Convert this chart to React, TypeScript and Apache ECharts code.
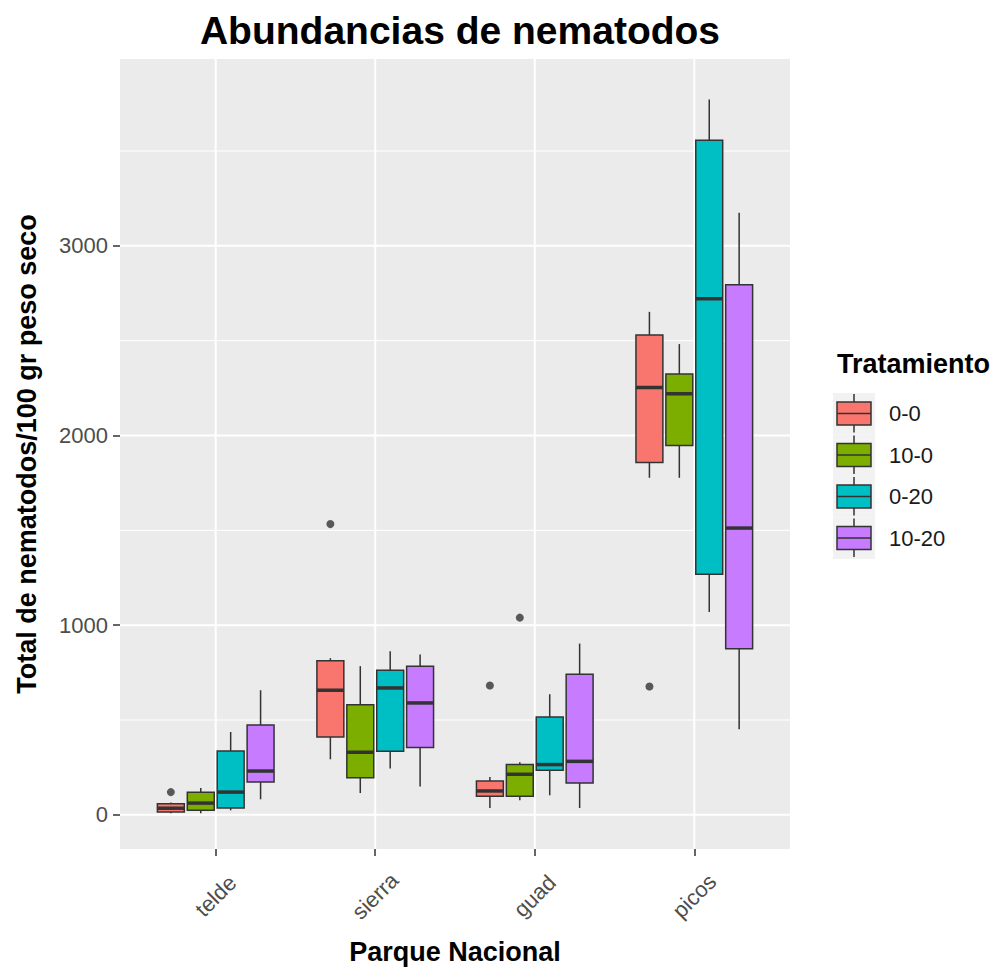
import React, { useEffect, useRef } from "react";
import * as echarts from "echarts";

const categories = ["telde", "sierra", "guad", "picos"];
const treatments = ["0-0", "10-0", "0-20", "10-20"];
const colors = ["#F8766D", "#7CAE00", "#00BFC4", "#C77CFF"];

// [min, q1, median, q3, max] for each park (telde, sierra, guad, picos)
const box00 = [
  [8, 15, 35, 59, 65],
  [293, 411, 657, 812, 826],
  [36, 98, 126, 178, 200],
  [1777, 1858, 2253, 2530, 2652],
];
const box100 = [
  [8, 24, 62, 119, 141],
  [115, 196, 330, 581, 784],
  [77, 98, 214, 266, 277],
  [1777, 1947, 2220, 2324, 2482],
];
const box020 = [
  [24, 36, 120, 337, 437],
  [244, 335, 669, 763, 863],
  [103, 235, 265, 516, 636],
  [1069, 1268, 2721, 3556, 3772],
];
const box1020 = [
  [82, 173, 231, 474, 657],
  [150, 355, 590, 784, 845],
  [36, 168, 282, 741, 903],
  [451, 876, 1512, 2795, 3174],
];
// [park index, value]
const outliers00 = [
  [0, 120],
  [1, 1533],
  [2, 682],
  [3, 677],
];
const outliers100 = [[2, 1040]];
const outliers020: number[][] = [];
const outliers1020: number[][] = [];

const yTicks = [0, 1000, 2000, 3000];
const yMinor = [500, 1500, 2500, 3500];

const boxes = [box00, box100, box020, box1020];
const outliers = [outliers00, outliers100, outliers020, outliers1020];

const FONT = "Liberation Sans, Arial, sans-serif";
const DODGE = 0.1875;
const HALF = DODGE * 0.45;

export default function App() {
  const ref = useRef<HTMLDivElement>(null);
  useEffect(() => {
    if (!ref.current) return;
    const chart = echarts.init(ref.current, null, { renderer: "svg" });

    const hLine = (width: number) => (params: any, api: any) => {
      const cs = params.coordSys;
      const y = api.coord([1, api.value(1)])[1];
      return {
        type: "line",
        shape: { x1: cs.x, y1: y, x2: cs.x + cs.width, y2: y },
        style: { stroke: "#FFFFFF", lineWidth: width },
        silent: true,
      };
    };
    const vLine = (params: any, api: any) => {
      const cs = params.coordSys;
      const x = api.coord([api.value(0), 0])[0];
      return {
        type: "line",
        shape: { x1: x, y1: cs.y, x2: x, y2: cs.y + cs.height },
        style: { stroke: "#FFFFFF", lineWidth: 2 },
        silent: true,
      };
    };

    const series: any[] = [
      {
        type: "custom",
        silent: true,
        renderItem: hLine(1),
        data: yMinor.map((v) => [1, v]),
        encode: { x: 0, y: 1 },
        z: 1,
      },
      {
        type: "custom",
        silent: true,
        renderItem: hLine(2),
        data: yTicks.map((v) => [1, v]),
        encode: { x: 0, y: 1 },
        z: 1,
      },
      {
        type: "custom",
        silent: true,
        renderItem: vLine,
        data: categories.map((_, i) => [i + 1, 0]),
        encode: { x: 0, y: 1 },
        z: 1,
      },
    ];

    treatments.forEach((name, t) => {
      const off = (t - 1.5) * DODGE;
      series.push({
        type: "custom",
        name,
        silent: true,
        z: 2,
        encode: { x: 0, y: [1, 2, 3, 4, 5] },
        data: boxes[t].map((b, i) => [i + 1, ...b]),
        renderItem: (params: any, api: any) => {
          const c = api.value(0) + off;
          const xL = api.coord([c - HALF, 0])[0];
          const xR = api.coord([c + HALF, 0])[0];
          const xc = api.coord([c, 0])[0];
          const y = (v: number) => api.coord([c, v])[1];
          const mn = api.value(1),
            q1 = api.value(2),
            md = api.value(3),
            q3 = api.value(4),
            mx = api.value(5);
          const stroke = "#333333";
          return {
            type: "group",
            children: [
              { type: "line", shape: { x1: xc, y1: y(mx), x2: xc, y2: y(q3) }, style: { stroke, lineWidth: 1.5 } },
              { type: "line", shape: { x1: xc, y1: y(q1), x2: xc, y2: y(mn) }, style: { stroke, lineWidth: 1.5 } },
              {
                type: "rect",
                shape: { x: xL, y: y(q3), width: xR - xL, height: y(q1) - y(q3) },
                style: { fill: colors[t], stroke, lineWidth: 1.5 },
              },
              { type: "line", shape: { x1: xL, y1: y(md), x2: xR, y2: y(md) }, style: { stroke, lineWidth: 3.5 } },
            ],
          };
        },
      });
      series.push({
        type: "scatter",
        silent: true,
        z: 3,
        symbolSize: 8,
        itemStyle: { color: "#333333" },
        data: outliers[t].map(([ci, v]) => [ci + 1 + off, v]),
      });
    });

    const graphics: any[] = [
      {
        type: "text",
        left: 837,
        top: 350,
        style: { text: "Tratamiento", font: `bold 27px ${FONT}`, fill: "#000000" },
      },
    ];
    const keyTop = 393;
    const keyH = 41.5;
    treatments.forEach((name, t) => {
      const ty = keyTop + t * keyH;
      const kx = 833;
      graphics.push(
        { type: "rect", shape: { x: kx, y: ty, width: 42, height: keyH }, style: { fill: "#F2F2F2" } },
        { type: "line", shape: { x1: kx + 21, y1: ty + 1, x2: kx + 21, y2: ty + keyH - 2 }, style: { stroke: "#333333", lineWidth: 1.5 } },
        {
          type: "rect",
          shape: { x: kx + 4, y: ty + 9, width: 34, height: 23 },
          style: { fill: colors[t], stroke: "#333333", lineWidth: 1.5 },
        },
        { type: "line", shape: { x1: kx + 4, y1: ty + 20.5, x2: kx + 38, y2: ty + 20.5 }, style: { stroke: "#333333", lineWidth: 1.5 } },
        {
          type: "text",
          x: 889,
          y: ty + keyH / 2,
          style: { text: name, font: `22px ${FONT}`, fill: "#1A1A1A", textVerticalAlign: "middle" },
        }
      );
    });

    chart.setOption({
      animation: false,
      title: {
        text: "Abundancias de nematodos",
        left: 455,
        top: 6,
        textAlign: "center",
        textStyle: { fontSize: 39, fontWeight: "bold", color: "#000000", fontFamily: FONT },
      },
      grid: {
        left: 120,
        right: 205,
        top: 59,
        bottom: 120,
        show: true,
        backgroundColor: "#EBEBEB",
        borderWidth: 0,
        containLabel: false,
        outerBoundsMode: "none",
      },
      xAxis: {
        type: "value",
        min: 0.4,
        max: 4.6,
        name: "Parque Nacional",
        nameLocation: "middle",
        nameGap: 89,
        nameTextStyle: { fontSize: 27, fontWeight: "bold", color: "#000000", fontFamily: FONT },
        axisLine: { show: false, onZero: false },
        splitLine: { show: false },
        axisTick: {
          show: true,
          length: 7,
          customValues: [1, 2, 3, 4],
          lineStyle: { color: "#333333", width: 1.5 },
        },
        axisLabel: {
          customValues: [1, 2, 3, 4],
          formatter: (v: number) => categories[Math.round(v) - 1] ?? "",
          rotate: 45,
          align: "center",
          verticalAlign: "middle",
          margin: 47,
          fontSize: 22,
          color: "#4D4D4D",
          fontFamily: FONT,
        },
      },
      yAxis: {
        type: "value",
        min: -180,
        max: 3985,
        name: "Total de nematodos/100 gr peso seco",
        nameLocation: "middle",
        nameGap: 80,
        nameRotate: 90,
        nameTextStyle: { fontSize: 27, fontWeight: "bold", color: "#000000", fontFamily: FONT },
        axisLine: { show: false, onZero: false },
        splitLine: { show: false },
        axisTick: {
          show: true,
          length: 7,
          customValues: yTicks,
          lineStyle: { color: "#333333", width: 1.5 },
        },
        axisLabel: {
          customValues: yTicks,
          formatter: (v: number) => String(v),
          margin: 12,
          fontSize: 22,
          color: "#4D4D4D",
          fontFamily: FONT,
        },
      },
      graphic: graphics,
      series,
    });
    return () => chart.dispose();
  }, []);
  return <div ref={ref} style={{ position: "absolute", left: 0, top: 0, width: 995, height: 969 }} />;
}
